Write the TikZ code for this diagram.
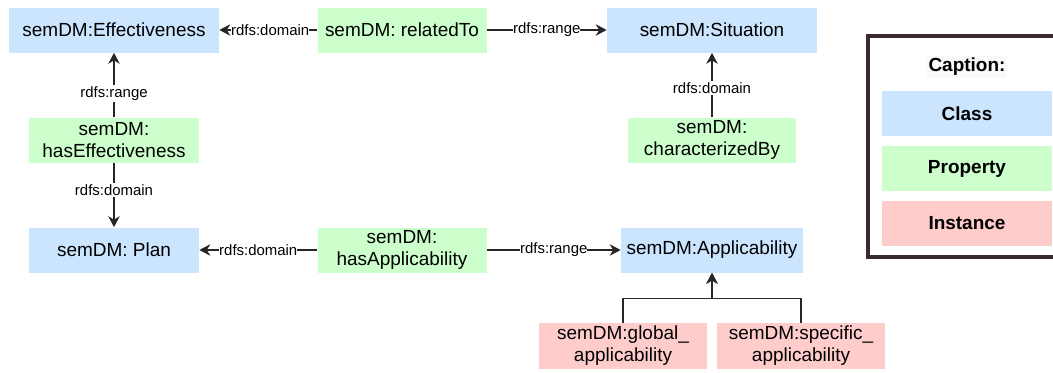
\documentclass[tikz,border=0pt]{standalone}
\usepackage{fontspec}
\setmainfont{Liberation Sans}
\usepackage{xcolor}
\usetikzlibrary{arrows.meta, positioning}
\definecolor{classblue}{HTML}{CCE5FF}
\definecolor{propgreen}{HTML}{CCFFCC}
\definecolor{instred}{HTML}{FFCCCC}
\definecolor{framedark}{HTML}{3A2C2C}
\newcommand{\boxfont}{\fontsize{10.8}{12.5}\selectfont}
\newcommand{\lblfont}{\fontsize{8.5}{10}\selectfont}

\begin{document}
\begin{tikzpicture}[
  cls/.style={rectangle, fill=classblue, minimum width=3.4cm, minimum height=0.9cm, align=center, inner sep=1pt, font=\boxfont},
  prop/.style={rectangle, fill=propgreen, minimum width=3.38cm, minimum height=0.9cm, align=center, inner sep=1pt, font=\boxfont},
  inst/.style={rectangle, fill=instred, minimum width=3.36cm, minimum height=0.92cm, align=center, inner sep=1pt, font=\boxfont},
  arrow/.style={-{Stealth[length=2.2mm, width=2.3mm]}, draw=black!85, line width=0.7pt},
  lbl/.style={fill=white, inner xsep=0pt, inner ysep=1pt, font=\lblfont}
]
  \clip (0, 0) rectangle (21.06, -7.44);

  % Classes
  \node[cls, minimum width=4.2cm] (eff) at (2.28, -0.60) {semDM:Effectiveness};
  \node[cls, minimum width=4.2cm] (sit) at (14.24, -0.60) {semDM:Situation};
  \node[cls] (plan) at (2.28, -5.00) {semDM: Plan};
  \node[cls, minimum width=3.64cm] (app) at (14.24, -5.00) {semDM:Applicability};

  % Properties
  \node[prop] (rel) at (8.04, -0.60) {semDM: relatedTo};
  \node[prop, minimum width=3.4cm] (haseff) at (2.28, -2.80) {semDM:\\hasEffectiveness};
  \node[prop, minimum width=3.36cm] (charby) at (14.24, -2.80) {semDM:\\characterizedBy};
  \node[prop] (hasapp) at (8.04, -5.00) {semDM:\\hasApplicability};

  % Instances
  \node[inst] (glob) at (12.46, -6.92) {semDM:global\_\\applicability};
  \node[inst] (spec) at (16.02, -6.92) {semDM:specific\_\\applicability};

  % Caption
  \draw[framedark, line width=1.8pt] (17.36, -0.72) rectangle (21.6, -5.14);
  \node[font=\boxfont\bfseries, fill=gray!5, inner sep=1pt] (cap) at (19.34, -1.34) {Caption:};
  \node[cls, font=\boxfont\bfseries] (lclass) at (19.34, -2.27) {Class};
  \node[prop, minimum width=3.4cm, font=\boxfont\bfseries] (lprop) at (19.34, -3.37) {Property};
  \node[inst, minimum width=3.4cm, minimum height=0.9cm, font=\boxfont\bfseries] (linst) at (19.34, -4.47) {Instance};

  % Relations
  \draw[arrow] (rel) -- node[lbl, pos=0.48] {rdfs:domain} (eff);
  \draw[arrow] (rel) -- node[lbl] {rdfs:range} (sit);
  \draw[arrow] (haseff) -- node[lbl, pos=0.37] {rdfs:range} (eff);
  \draw[arrow] (haseff) -- node[lbl, pos=0.42] {rdfs:domain} (plan);
  \draw[arrow] (charby) -- node[lbl, pos=0.45] {rdfs:domain} (sit);
  \draw[arrow] (hasapp) -- node[lbl] {rdfs:domain} (plan);
  \draw[arrow] (hasapp) -- node[lbl] {rdfs:range} (app);
  \draw[arrow] (glob.north) -- ++(0, 0.48) -| (app.south);
  \draw[arrow] (spec.north) -- ++(0, 0.48) -| (app.south);
\end{tikzpicture}
\end{document}
